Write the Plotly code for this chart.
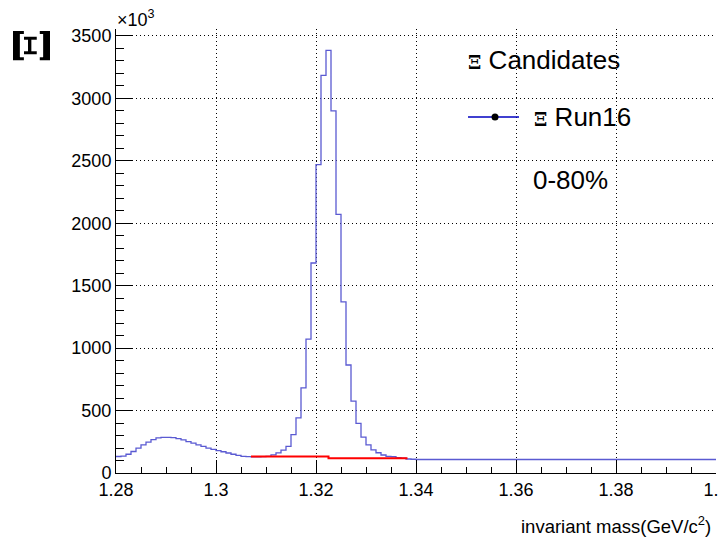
import plotly.graph_objects as go

# Invariant-mass histogram: 120 bins of 1 MeV/c^2 from 1.28 to 1.40 GeV/c^2
bin_low = 1.28
bin_width = 0.001
# bin contents, in units of 10^3 entries
counts = [
    132, 135, 150, 172, 200, 225, 248, 268, 282, 285,
    285, 283, 275, 265, 252, 240, 226, 213, 200, 190,
    180, 170, 160, 150, 141, 133, 131, 130, 130, 131,
    133, 145, 161, 184, 214, 308, 441, 681, 1072, 1682,
    2470, 3185, 3385, 2900, 2072, 1370, 865, 575, 398, 287,
    226, 186, 162, 144, 133, 130, 122, 119, 112, 110,
] + [108] * 60

# background estimate under the peak
bkg_x = [1.307, 1.3225, 1.3383]
bkg_y = [132, 119, 119]

x_ticks = [1.28, 1.30, 1.32, 1.34, 1.36, 1.38, 1.40]
x_tick_text = ["1.28", "1.3", "1.32", "1.34", "1.36", "1.38", "1.4"]
y_ticks = [0, 500, 1000, 1500, 2000, 2500, 3000, 3500]

edges = [bin_low + i * bin_width for i in range(len(counts) + 1)]
step_x = edges
step_y = counts + [counts[-1]]

SANS = "Liberation Sans, Arial, sans-serif"
SERIF = "DejaVu Serif, Liberation Serif, serif"

fig = go.Figure()
fig.add_trace(go.Scatter(
    x=step_x, y=step_y, mode="lines", line_shape="hv",
    line=dict(color="#5a5ad2", width=1.3), showlegend=False, hoverinfo="skip",
))
fig.add_trace(go.Scatter(
    x=bkg_x, y=bkg_y, mode="lines", line_shape="hv",
    line=dict(color="#ff0000", width=2), showlegend=False, hoverinfo="skip",
))

grid_dash = "1px,3px"
fig.update_layout(
    width=718, height=539,
    margin=dict(l=116, r=2, t=29, b=66),
    paper_bgcolor="white", plot_bgcolor="white",
    font=dict(family=SANS, color="black"),
    xaxis=dict(
        range=[1.28, 1.40], tickvals=x_ticks, ticktext=x_tick_text,
        ticks="inside", ticklen=13, tickwidth=1, tickcolor="black",
        showline=True, linecolor="black", linewidth=1,
        showgrid=True, gridcolor="black", gridwidth=1, griddash=grid_dash,
        zeroline=False, tickfont=dict(size=18, family=SANS),
        ticklabeloverflow="allow", automargin=False,
        minor=dict(ticks="inside", ticklen=6, dtick=0.005, tick0=1.28,
                   tickcolor="black", showgrid=False),
    ),
    yaxis=dict(
        range=[0, 3556], tickvals=y_ticks,
        ticks="inside", ticklen=16, tickwidth=1, tickcolor="black",
        showline=True, linecolor="black", linewidth=1,
        showgrid=True, gridcolor="black", gridwidth=1, griddash=grid_dash,
        zeroline=False, tickfont=dict(size=18, family=SANS),
        automargin=False,
        minor=dict(ticks="inside", ticklen=8, dtick=100, tick0=0,
                   tickcolor="black", showgrid=False),
    ),
)

xi = lambda size: f'<span style="font-family:{SERIF};font-weight:bold;font-size:{size}px">Ξ</span>'

annotations = [
    # axis titles and multiplier
    dict(text=xi(50), x=-0.138, y=0.962, textangle=-90,
         xanchor="center", yanchor="middle"),
    dict(text="×10<sup>3</sup>", x=-0.002, y=1.024, xanchor="left", yanchor="middle",
         font=dict(size=18)),
    dict(text="invariant mass(GeV/c<sup>2</sup>)", x=0.995, y=-0.117,
         xanchor="right", yanchor="middle", font=dict(size=18.5)),
    # legend
    dict(text=xi(19) + " Candidates", x=0.583, y=0.930, xanchor="left",
         yanchor="middle", font=dict(size=26)),
    dict(text=xi(19) + " Run16", x=0.693, y=0.802, xanchor="left",
         yanchor="middle", font=dict(size=26)),
    dict(text="0-80%", x=0.692, y=0.660, xanchor="left", yanchor="middle",
         font=dict(size=26)),
]
for a in annotations:
    a.update(xref="paper", yref="paper", showarrow=False)
fig.update_layout(annotations=annotations)

# legend sample: line with marker
fig.add_shape(type="line", xref="paper", yref="paper",
              x0=0.5867, x1=0.6717, y0=0.802, y1=0.802,
              line=dict(color="#0000c0", width=1.5))
fig.add_shape(type="circle", xref="paper", yref="paper",
              x0=0.6317 - 3.5 / 600, x1=0.6317 + 3.5 / 600,
              y0=0.802 - 3.5 / 444, y1=0.802 + 3.5 / 444,
              fillcolor="black", line=dict(color="black", width=0))

fig.write_html("out.html")
